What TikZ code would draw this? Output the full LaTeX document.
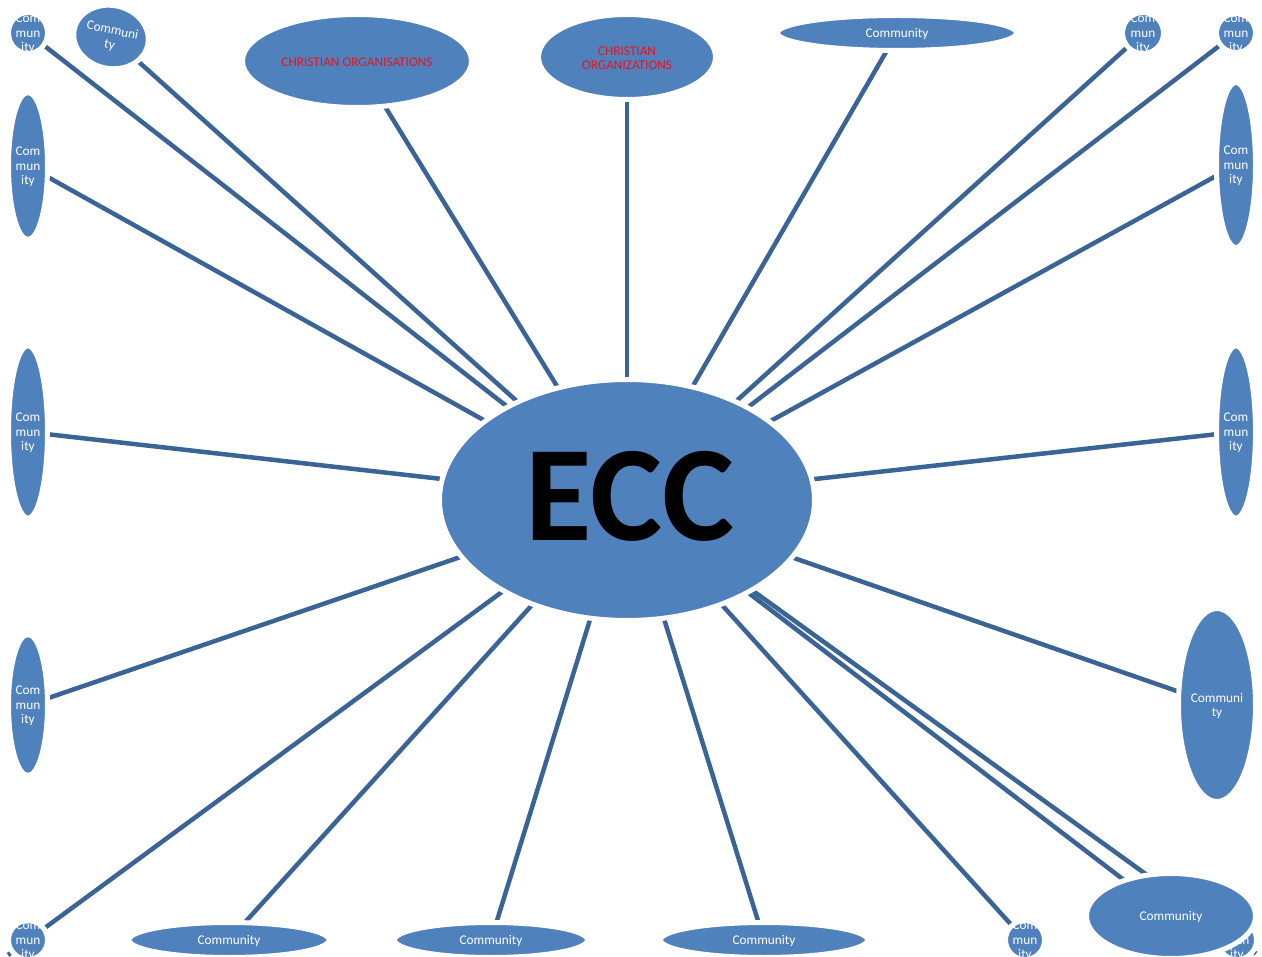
\documentclass[tikz,border=0pt]{standalone}
\usepackage{fontspec}
\setmainfont{Carlito}
\usetikzlibrary{shapes.geometric,backgrounds}
\definecolor{nodeblue}{HTML}{4F81BD}
\definecolor{linkblue}{HTML}{3B6496}
\definecolor{orgred}{HTML}{E8141E}
\begin{document}
\begin{tikzpicture}[x=1pt,y=-1pt,
  ell/.style={ellipse, fill=nodeblue, draw=white, line width=5pt, inner sep=0pt, outer sep=0pt},
  sz/.style 2 args={minimum width=#1pt+5pt, minimum height=#2pt+5pt},
  txt/.style={text=white, font=\fontsize{13.3}{14.5}\selectfont, align=center, inner sep=0pt, yshift=-0.8pt},
  orgtxt/.style={text=orgred, font=\fontsize{13.3}{14}\selectfont, align=center, inner sep=0pt, yshift=-0.8pt},
  conn/.style={draw=linkblue, line width=4.5pt}]
\useasboundingbox (0,0) rectangle (1262,957);

% nodes
\node[ell, sz={34}{36}, label={[txt]center:Com\\mun\\ity}] (c1) at (28,33) {};
\node[ell, sz={70}{58}, rotate=-12, label={[txt, rotate=-12]center:Communi\\ty}] (c2) at (111,37) {};
\node[ell, sz={224}{88}, label={[orgtxt]center:CHRISTIAN ORGANISATIONS}] (co1) at (357,61) {};
\node[ell, sz={172}{80}, label={[orgtxt]center:CHRISTIAN\\ORGANIZATIONS}] (co2) at (627,57) {};
\node[ell, sz={234}{30}, label={[txt]center:Community}] (ctop) at (897,33) {};
\node[ell, sz={36}{36}, label={[txt]center:Com\\mun\\ity}] (c6) at (1143,33) {};
\node[ell, sz={34}{34}, label={[txt]center:Com\\mun\\ity}] (c7) at (1236,33) {};
\node[ell, sz={34}{160}, label={[txt]center:Com\\mun\\ity}] (rt) at (1236,165) {};
\node[ell, sz={34}{167}, label={[txt]center:Com\\mun\\ity}] (rm) at (1236,432) {};
\node[ell, sz={72}{188}, label={[txt]center:Communi\\ty}] (rl) at (1217,705) {};
\node[ell, sz={34}{34}, label={[txt]center:Com\\mun\\ity}] (hid) at (1237,940) {};
\node[ell, sz={164}{80}, label={[txt]center:Community}] (br) at (1171,916) {};
\node[ell, sz={34}{34}, label={[txt]center:Com\\mun\\ity}] (sc) at (1025,940) {};
\node[ell, sz={202}{30}, label={[txt]center:Community}] (b3) at (764,940) {};
\node[ell, sz={188}{30}, label={[txt]center:Community}] (b2) at (491,940) {};
\node[ell, sz={195}{30}, label={[txt]center:Community}] (b1) at (229,940) {};
\node[ell, sz={34}{34}, label={[txt]center:Com\\mun\\ity}] (bl) at (28,940) {};
\node[ell, sz={34}{136}, label={[txt]center:Com\\mun\\ity}] (ll) at (28,705) {};
\node[ell, sz={34}{167}, label={[txt]center:Com\\mun\\ity}] (lm) at (28,432) {};
\node[ell, sz={34}{142}, label={[txt]center:Com\\mun\\ity}] (lt) at (28,166) {};
\node[ell, sz={370}{236}, label={[text=black, inner sep=0pt, yshift=4pt, xshift=3pt, font=\fontsize{136}{136}\bfseries]center:ECC}] (ecc) at (627,500) {};

\coordinate (blx) at (8,955);
\coordinate (hidx) at (1256,953.6);

% connectors
\begin{pgfonlayer}{background}
\foreach \n in {c1,c2,co1,co2,ctop,c6,c7,rt,rm,rl,br,sc,b3,b2,b1,ll,lm,lt}
  \draw[conn] (ecc.center) -- (\n.center);
\draw[conn] (ecc.center) -- (hidx);
\draw[conn] (ecc.center) -- (blx);
\end{pgfonlayer}
\end{tikzpicture}
\end{document}
